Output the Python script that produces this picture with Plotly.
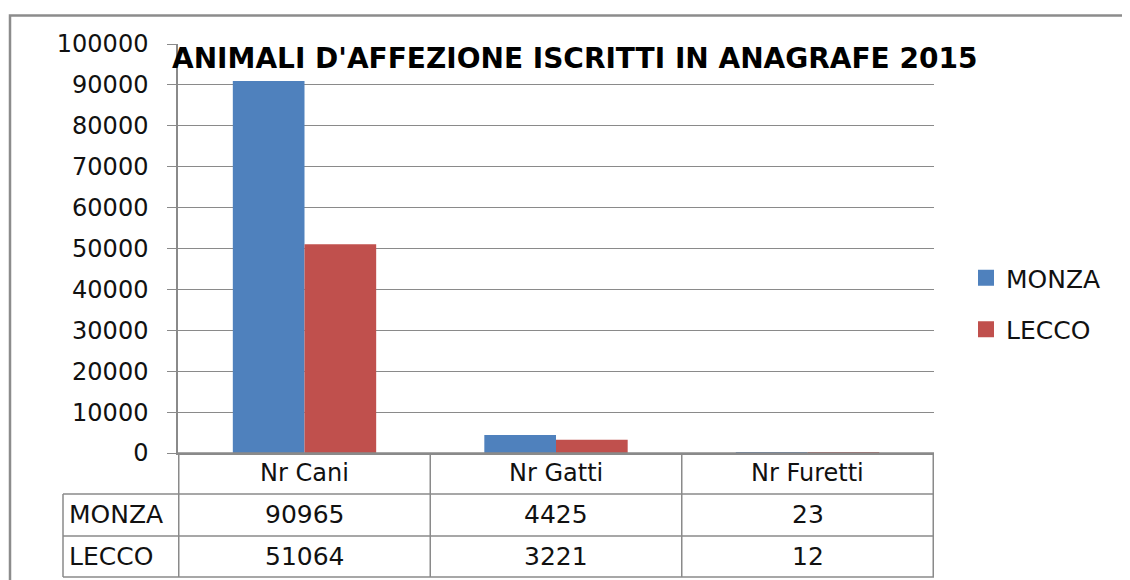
import plotly.graph_objects as go

# ---- data ----
categories = ["Nr Cani", "Nr Gatti", "Nr Furetti"]
series_names = ["MONZA", "LECCO"]
monza = [90965, 4425, 23]
lecco = [51064, 3221, 12]
series_values = [monza, lecco]
colors = ["#4F81BD", "#C0504D"]
title_text = "ANIMALI D'AFFEZIONE ISCRITTI IN ANAGRAFE 2015"
y_ticks = list(range(0, 100001, 10000))

# ---- layout constants (pixels, in screen coordinates) ----
OFF = 8                      # page body margin
W, H = 1130 - OFF, 580 - OFF
PL, PR, PT, PB = 178, 934, 44, 453   # plot area edges on screen
pw, ph = PR - PL, PB - PT

def px_x(px):
    return (px - PL) / pw

def px_y(py):
    return (PB - py) / ph

FONT = "DejaVu Sans"
GRID = "#8a8a8a"
TXT = "#111111"

fig = go.Figure()
for name, vals, col in zip(series_names, series_values, colors):
    fig.add_trace(go.Bar(x=categories, y=vals, name=name, marker_color=col,
                         marker_line_width=0, legendgroup=name, showlegend=False))
    # legend entry with a larger square swatch
    fig.add_trace(go.Scatter(x=[None], y=[None], mode="markers", name=name, legendgroup=name,
                             marker=dict(symbol="square", size=16, color=col), showlegend=True))

shapes = []
ann = []

# outer chart border
shapes.append(dict(type="rect", xref="paper", yref="paper",
                   x0=px_x(10), x1=px_x(1150), y0=px_y(600), y1=px_y(15.5),
                   line=dict(color="#8c8c8c", width=2.5), layer="below"))

# data table lines
row_tops = [PB, 494, 536, 577]
label_left = px_x(63)
for i, yy in enumerate(row_tops):
    x0 = 0 if i == 0 else label_left
    shapes.append(dict(type="line", xref="paper", yref="paper",
                       x0=x0, x1=1, y0=px_y(yy), y1=px_y(yy),
                       line=dict(color=GRID, width=1.5)))
for k in range(len(categories) + 1):
    shapes.append(dict(type="line", xref="x", yref="paper",
                       x0=k - 0.5, x1=k - 0.5, y0=px_y(PB), y1=px_y(577),
                       line=dict(color=GRID, width=1.5)))
shapes.append(dict(type="line", xref="paper", yref="paper",
                   x0=label_left, x1=label_left, y0=px_y(494), y1=px_y(577),
                   line=dict(color=GRID, width=1.5)))

# header row text
for c in categories:
    ann.append(dict(x=c, xref="x", y=px_y((row_tops[0] + row_tops[1]) / 2), yref="paper",
                    text=c, showarrow=False, font=dict(family=FONT, size=24, color=TXT),
                    xanchor="center", yanchor="middle"))
# value rows
for r, (name, vals) in enumerate(zip(series_names, series_values)):
    yc = px_y((row_tops[r + 1] + row_tops[r + 2]) / 2)
    ann.append(dict(x=px_x(67), xref="paper", y=yc, yref="paper", text=name,
                    showarrow=False, font=dict(family=FONT, size=25, color=TXT),
                    xanchor="left", yanchor="middle"))
    for c, v in zip(categories, vals):
        ann.append(dict(x=c, xref="x", y=yc, yref="paper", text=str(v),
                        showarrow=False, font=dict(family=FONT, size=25, color=TXT),
                        xanchor="center", yanchor="middle"))

# title
ann.append(dict(x=px_x(574), xref="paper", y=px_y(58), yref="paper", text="<b>" + title_text + "</b>",
                showarrow=False, font=dict(family=FONT, size=28, color="#000000"),
                xanchor="center", yanchor="middle"))

fig.update_layout(
    width=W, height=H,
    margin=dict(l=PL - OFF, r=W - (PR - OFF), t=PT - OFF, b=H - (PB - OFF), pad=0),
    paper_bgcolor="white", plot_bgcolor="white",
    barmode="group", bargap=0.43, bargroupgap=0,
    font=dict(family=FONT, size=22, color=TXT),
    showlegend=True,
    legend=dict(x=px_x(966), y=px_y(255), xref="paper", yref="paper",
                xanchor="left", yanchor="top", tracegroupgap=16, itemsizing="trace",
                font=dict(family=FONT, size=25, color=TXT), bgcolor="rgba(0,0,0,0)"),
    shapes=shapes, annotations=ann,
    xaxis=dict(showticklabels=False, ticks="", showline=True, linecolor=GRID, linewidth=1.5,
               showgrid=False, zeroline=False, fixedrange=True),
    yaxis=dict(range=[0, 100000], tickvals=y_ticks, tickformat="d",
               showgrid=True, gridcolor=GRID, gridwidth=1,
               showline=True, linecolor=GRID, linewidth=1.5,
               ticks="outside", ticklen=9, tickcolor=GRID, tickwidth=1,
               ticklabelstandoff=14, zeroline=False,
               tickfont=dict(family=FONT, size=24, color=TXT)),
)

fig.write_html("out.html")
